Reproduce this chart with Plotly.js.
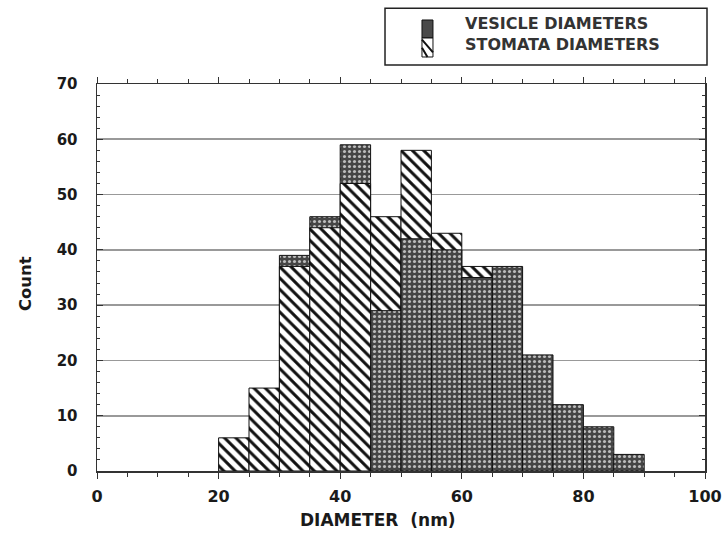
<!DOCTYPE html>
<html>
<head>
<meta charset="utf-8">
<script src="https://cdn.plot.ly/plotly-3.0.1.min.js"></script>
<style>html,body{margin:0;padding:0;background:#fff;}#chart{width:728px;height:535px;}</style>
</head>
<body>
<div id="chart"></div>
<script>
// Histogram bins (left edge, nm) and counts
const binStart = [20, 25, 30, 35, 40, 45, 50, 55, 60, 65, 70, 75, 80, 85];
const vesicle  = [0, 0, 39, 46, 59, 29, 42, 40, 35, 37, 21, 12, 8, 3];
const stomata  = [6, 15, 37, 44, 52, 46, 58, 43, 37, 0, 0, 0, 0, 0];
const seriesNames = ['VESICLE DIAMETERS', 'STOMATA DIAMETERS'];
const xTitle = 'DIAMETER  (nm)';
const yTitle = 'Count';

const nz = v => (v > 0 ? v : null);
// taller bar of each bin drawn first, shorter one on top of it
const vesBack = vesicle.map((v, i) => (v >= stomata[i] ? nz(v) : null));
const stoBack = stomata.map((s, i) => (s > vesicle[i] ? nz(s) : null));
const vesFront = vesicle.map((v, i) => (v < stomata[i] ? nz(v) : null));
const stoFront = stomata.map((s, i) => (s <= vesicle[i] ? nz(s) : null));

const vesMarker = {
  color: '#454545',
  line: {color: '#111', width: 1},
  pattern: {shape: '.', bgcolor: '#454545', fgcolor: '#bdbdbd', size: 5, solidity: 0.3}
};
const stoMarker = {
  color: '#ffffff',
  line: {color: '#111', width: 1},
  pattern: {shape: '\\', bgcolor: '#ffffff', fgcolor: '#111', size: 8, solidity: 0.38}
};
const common = {type: 'bar', x: binStart, offset: 0, width: 5, hoverinfo: 'x+y', showlegend: false};

const traces = [
  Object.assign({}, common, {y: vesBack, name: seriesNames[0], marker: vesMarker}),
  Object.assign({}, common, {y: stoBack, name: seriesNames[1], marker: stoMarker}),
  Object.assign({}, common, {y: vesFront, name: seriesNames[0], marker: vesMarker}),
  Object.assign({}, common, {y: stoFront, name: seriesNames[1], marker: stoMarker})
];

const fontFam = '"DejaVu Sans", Verdana, sans-serif';
const ink = '#1a1a1a';

// legend key geometry (paper coordinates)
const keyX0 = 0.5345, keyX1 = 0.5526, keyTop = 1.1654, keyMid = 1.1189, keyBot = 1.0698;

const layout = {
  width: 728, height: 535,
  margin: {l: 97, r: 23, t: 84, b: 64},
  paper_bgcolor: '#fff', plot_bgcolor: '#fff',
  barmode: 'overlay', bargap: 0,
  showlegend: false,
  font: {family: fontFam, color: ink, size: 14},
  xaxis: {
    range: [0, 100], dtick: 20, tick0: 0,
    ticks: 'outside', ticklen: 6, tickwidth: 1, tickcolor: '#333',
    minor: {dtick: 5, ticks: 'outside', ticklen: 4, tickcolor: '#333'},
    showline: true, linecolor: '#333', linewidth: 1.5, mirror: 'ticks',
    showgrid: false, zeroline: false,
    ticklabelstandoff: 4,
    tickfont: {family: fontFam, size: 16, weight: 'bold', color: ink}
  },
  yaxis: {
    range: [0, 70], dtick: 10, tick0: 0,
    ticks: 'inside', ticklen: 6, tickwidth: 1, tickcolor: '#333',
    minor: {dtick: 2, ticks: 'inside', ticklen: 3, tickcolor: '#333'},
    showline: true, linecolor: '#333', linewidth: 1.5, mirror: 'ticks',
    showgrid: true, gridcolor: '#999', gridwidth: 1.6, zeroline: false,
    ticklabelstandoff: 15,
    tickfont: {family: fontFam, size: 15, weight: 'bold', color: ink}
  },
  annotations: [
    {xref: 'paper', yref: 'paper', x: 0.462, y: 0, yanchor: 'middle', yshift: -48.5,
     text: xTitle, showarrow: false,
     font: {family: fontFam, size: 17, weight: 'bold', color: ink}},
    {xref: 'paper', yref: 'paper', x: -0.1184, y: 0.483, xanchor: 'center', yanchor: 'middle',
     textangle: -90, text: yTitle, showarrow: false,
     font: {family: fontFam, size: 16.5, weight: 'bold', color: ink}},
    {xref: 'paper', yref: 'paper', x: 0.602, y: 1.1295, xanchor: 'left', yanchor: 'middle',
     align: 'left', text: seriesNames.join('<br>'), showarrow: false,
     font: {family: fontFam, size: 16, weight: 'bold', color: '#333'}}
  ],
  shapes: [
    {type: 'rect', xref: 'paper', yref: 'paper',
     x0: 0.4737, x1: 1.0033, y0: 1.049, y1: 1.196,
     line: {color: '#222', width: 1.5}, fillcolor: 'rgba(0,0,0,0)'},
    // legend key: vesicle (dark) over stomata (hatched)
    {type: 'rect', xref: 'paper', yref: 'paper',
     x0: keyX0, x1: keyX1, y0: keyMid, y1: keyTop,
     line: {color: '#111', width: 1}, fillcolor: '#4a4a4a'},
    {type: 'rect', xref: 'paper', yref: 'paper',
     x0: keyX0, x1: keyX1, y0: keyBot, y1: keyMid,
     line: {color: '#111', width: 1}, fillcolor: '#ffffff'},
    {type: 'path', xref: 'paper', yref: 'paper',
     path: 'M ' + keyX0 + ' ' + (keyMid - 0.004) + ' L ' + keyX1 + ' ' + (keyBot + 0.012) +
           ' M ' + keyX0 + ' ' + (keyMid - 0.025) + ' L ' + (keyX0 + 0.009) + ' ' + keyBot,
     line: {color: '#111', width: 2}}
  ]
};

Plotly.newPlot('chart', traces, layout, {displayModeBar: false, staticPlot: true});
</script>
</body>
</html>
